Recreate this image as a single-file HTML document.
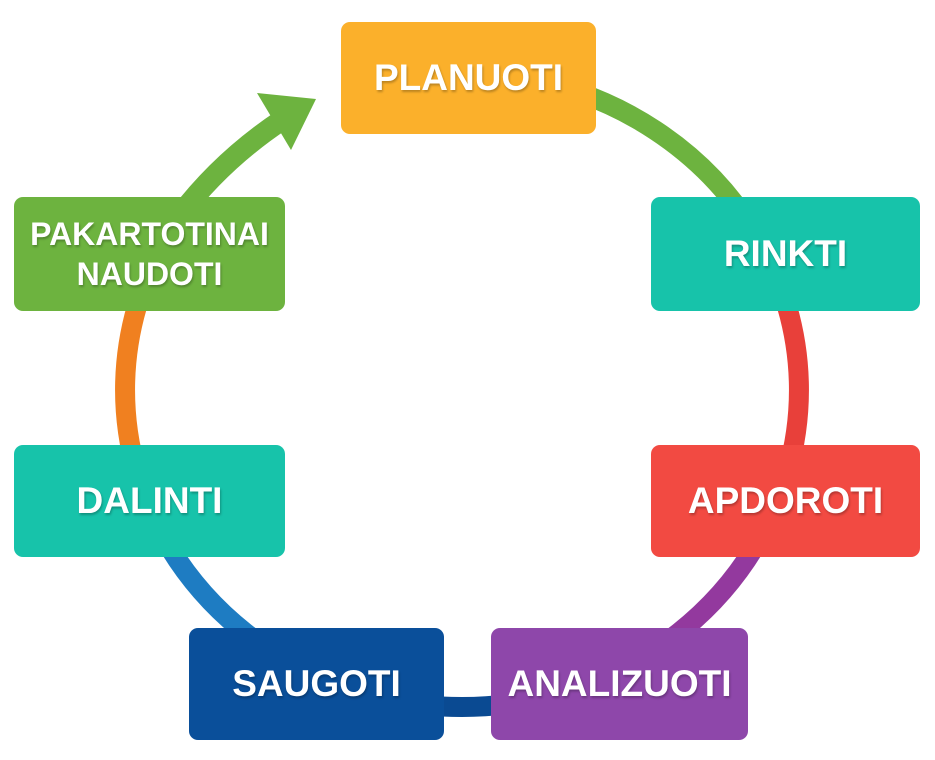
<!DOCTYPE html>
<html><head><meta charset="utf-8"><style>
body{margin:0;width:935px;height:760px;background:#fff;position:relative;overflow:hidden;font-family:"Liberation Sans",sans-serif}
svg{position:absolute;left:0;top:0}
.b{position:absolute;border-radius:9px;color:#fff;font-weight:bold;display:flex;align-items:center;justify-content:center;text-align:center;font-size:37px;text-shadow:1px 2px 2px rgba(0,0,0,.25);line-height:1.25}
</style></head><body>
<svg width="935" height="760">
<g fill="none" stroke-width="20">
<path d="M520.6 77.8 A337 317 0 0 1 753.8 231.5" stroke="#6DB33F"/>
<path d="M753.8 231.5 A337 317 0 0 1 753.8 548.5" stroke="#E8403A"/>
<path d="M753.8 548.5 A337 317 0 0 1 577.3 687.9" stroke="#93399E"/>
<path d="M577.3 687.9 A337 317 0 0 1 346.7 687.9" stroke="#0A4A92"/>
<path d="M346.7 687.9 A337 317 0 0 1 170.2 548.5" stroke="#1E7CC2"/>
<path d="M170.2 548.5 A337 317 0 0 1 170.2 231.5" stroke="#F08020"/>
<path d="M180 215 Q222 160 282 120" stroke="#6DB33F" stroke-width="21"/>
</g>
<polygon points="257,93 316,99 291,150" fill="#6DB33F"/>
</svg>
<div class="b" style="left:341px;top:22px;width:255px;height:112px;background:#FBB02B">PLANUOTI</div>
<div class="b" style="left:651px;top:197px;width:269px;height:114px;background:#17C3AA">RINKTI</div>
<div class="b" style="left:651px;top:445px;width:269px;height:112px;background:#F24A42">APDOROTI</div>
<div class="b" style="left:491px;top:628px;width:257px;height:112px;background:#8E47AA">ANALIZUOTI</div>
<div class="b" style="left:189px;top:628px;width:255px;height:112px;background:#0A4F9A">SAUGOTI</div>
<div class="b" style="left:14px;top:445px;width:271px;height:112px;background:#17C3AA">DALINTI</div>
<div class="b" style="left:14px;top:197px;width:271px;height:114px;background:#6DB33F;font-size:32px">PAKARTOTINAI<br>NAUDOTI</div>
</body></html>
